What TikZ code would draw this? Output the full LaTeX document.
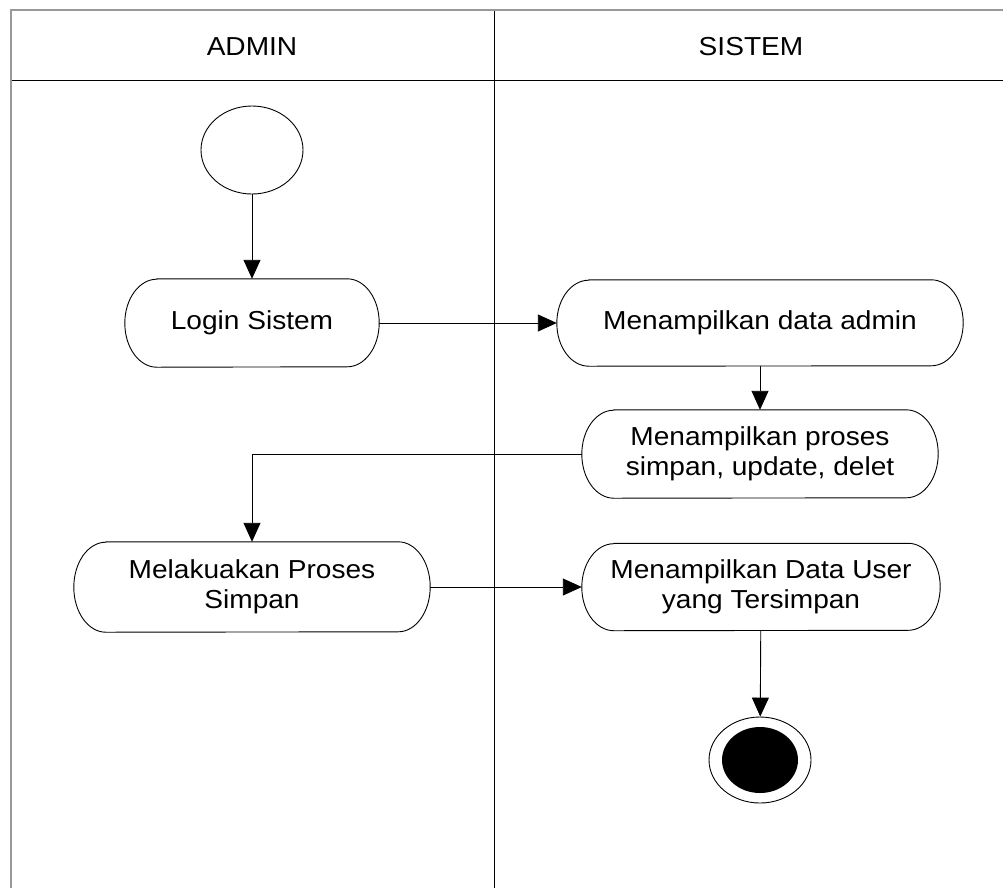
\documentclass[tikz,border=0pt]{standalone}
\usepackage{fontspec}
\setmainfont{Liberation Sans}[FakeStretch=1.08]
\usetikzlibrary{arrows.meta,shapes.geometric}
\begin{document}
\begin{tikzpicture}[x=1pt,y=-1pt,
  txt/.style={font=\fontsize{26}{30}\selectfont, align=center},
  act/.style={rectangle, inner sep=0pt, txt},
  actline/.style={draw, line width=0.9pt},
  flow/.style={line width=0.9pt, -{Triangle[length=19pt,width=17pt]}},
  frameline/.style={draw=gray!80, line width=2pt},
  laneline/.style={draw=black, line width=0.9pt}
  ]
\useasboundingbox (0,0) rectangle (1003,887);
% swimlane frame
\coordinate (tl) at (11,10);
\coordinate (tr) at (1010,10);
\coordinate (bl) at (11,890);
\coordinate (hl) at (11,80);
\coordinate (hr) at (1010,80);
\coordinate (dt) at (494,10);
\coordinate (db) at (494,890);
\draw[laneline] (hl) -- (hr);
\draw[laneline] (dt) -- (db);
\draw[frameline] (tr) -- (tl) -- (bl);
\node[txt] (hadmin) at (252,47) {ADMIN};
\node[txt] (hsistem) at (751,47) {SISTEM};
% nodes
\node[ellipse, draw, line width=0.9pt, minimum width=102, minimum height=88, inner sep=0pt] (start) at (252,150) {};
\node[act, minimum width=254, minimum height=88] (login) at (252,323) {Login Sistem};
\node[act, minimum width=406, minimum height=86] (admin) at (760,323) {Menampilkan data admin};
\node[act, minimum width=356, minimum height=88] (proses) at (760,454) {Menampilkan proses\\simpan, update, delet};
\node[act, minimum width=356, minimum height=90] (simpan) at (252,587) {Melakuakan Proses\\Simpan};
\node[act, minimum width=358, minimum height=87] (user) at (761,587) {Menampilkan Data User\\yang Tersimpan};
\node[ellipse, draw, line width=0.9pt, minimum width=102, minimum height=86, inner sep=0pt] (end) at (760,760) {};
\node[ellipse, fill=black, minimum width=76, minimum height=66, inner sep=0pt] (endin) at (end.center) {};
% activity outlines (elliptic ends)
\foreach \n/\h in {login/44, admin/43, proses/44, simpan/45, user/43.5} {
  \draw[actline] ([xshift=32pt]\n.north west) -- ([xshift=-32pt]\n.north east)
    arc[start angle=-90, end angle=90, x radius=32, y radius=\h]
    -- ([xshift=32pt]\n.south west)
    arc[start angle=90, end angle=270, x radius=32, y radius=\h] -- cycle;
}
% connectors
\draw[flow] (start) -- (login);
\draw[flow] (login) -- (admin);
\draw[flow] (admin) -- (proses);
\draw[flow] (proses.west) -| (simpan.north);
\draw[flow] (simpan) -- (user);
\draw[flow] (user) -- (end);
\end{tikzpicture}
\end{document}
